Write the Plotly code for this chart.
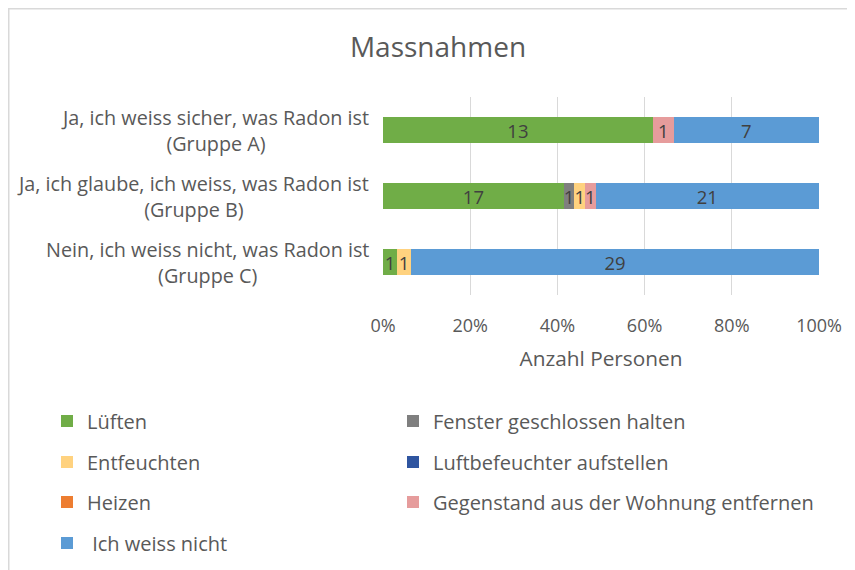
import plotly.graph_objects as go

categories = [
    "Ja, ich weiss sicher, was Radon ist<br>(Gruppe A)",
    "Ja, ich glaube, ich weiss, was Radon ist<br>(Gruppe B)",
    "Nein, ich weiss nicht, was Radon ist<br>(Gruppe C)",
]
series_names = [
    "Lüften",
    "Fenster geschlossen halten",
    "Entfeuchten",
    "Luftbefeuchter aufstellen",
    "Heizen",
    "Gegenstand aus der Wohnung entfernen",
    " Ich weiss nicht",
]
lueften = [13, 17, 1]
fenster = [0, 1, 0]
entfeuchten = [0, 1, 1]
luftbefeuchter = [0, 0, 0]
heizen = [0, 0, 0]
gegenstand = [1, 1, 0]
weiss_nicht = [7, 21, 29]
series_values = [lueften, fenster, entfeuchten, luftbefeuchter, heizen, gegenstand, weiss_nicht]
colors = ["#70AD47", "#7F7F7F", "#FFD27F", "#2F55A0", "#ED7D31", "#E69C9C", "#5B9BD5"]
x_ticks = [0, 20, 40, 60, 80, 100]
x_ticklabels = ["0%", "20%", "40%", "60%", "80%", "100%"]

FONT = "Open Sans"
TXT = "#595959"

# page offset of the plot div (body margin)
OFF = 8
W, H = 855 - OFF, 570 - OFF
# plot area in page pixels
PL, PR, PT, PB = 383, 819, 97, 295
L = PL - OFF
T = PT - OFF
R = W - (PR - OFF)
B = H - (PB - OFF)
pw = W - L - R
ph = H - T - B

def px2x(px):
    return (px - OFF - L) / pw

def py2y(py):
    return (H - B - (py - OFF)) / ph

fig = go.Figure()

# legend layout: (col px, row py) in page pixels
legend_pos = [
    (47, 421), (393, 421),
    (47, 462), (393, 462),
    (47, 502), (393, 502),
    (47, 543),
]

for i, (name, vals, col) in enumerate(zip(series_names, series_values, colors)):
    lg = "legend" if i == 0 else f"legend{i+1}"
    fig.add_trace(go.Bar(
        y=categories,
        x=vals,
        name=name,
        orientation="h",
        marker=dict(color=col, line=dict(width=0)),
        text=[str(v) if v else "" for v in vals],
        textposition="inside",
        insidetextanchor="middle",
        textangle=0,
        constraintext="none",
        textfont=dict(family=FONT, size=18.5, color="#404040"),
        legend=lg,
        hoverinfo="skip",
    ))

layout_legends = {}
for i, (lx, ly) in enumerate(legend_pos):
    key = "legend" if i == 0 else f"legend{i+1}"
    layout_legends[key] = dict(
        x=px2x(lx), y=py2y(ly), xanchor="left", yanchor="middle",
        orientation="h", bgcolor="rgba(0,0,0,0)", borderwidth=0,
        font=dict(family=FONT, size=20, color=TXT),
        itemclick=False, itemdoubleclick=False,
    )

annotations = []
for cat in categories:
    annotations.append(dict(
        x=px2x(371), xref="paper", y=cat, yref="y",
        text=cat, showarrow=False, xanchor="right", yanchor="middle",
        align="center", font=dict(family=FONT, size=19.8, color=TXT),
    ))

fig.update_layout(
    width=W, height=H,
    margin=dict(l=L, r=R, t=T, b=B, autoexpand=False),
    paper_bgcolor="white", plot_bgcolor="white",
    barmode="stack", barnorm="percent", bargap=0.606,
    showlegend=True,
    title=dict(text="Massnahmen", x=(438 - OFF) / W, xanchor="center",
               y=1 - (47 - OFF) / H, yanchor="middle",
               font=dict(family=FONT, size=28, color=TXT)),
    xaxis=dict(
        range=[0, 100], tickvals=x_ticks, ticktext=x_ticklabels,
        showgrid=True, gridcolor="#D9D9D9", gridwidth=1,
        zeroline=False, showline=False, ticks="",
        ticklabelstandoff=18,
        tickfont=dict(family=FONT, size=18, color=TXT),
        title=dict(text="Anzahl Personen", font=dict(family=FONT, size=20.8, color=TXT), standoff=15),
        fixedrange=True,
    ),
    yaxis=dict(
        autorange="reversed", showticklabels=False, showgrid=False,
        zeroline=False, showline=False, ticks="", fixedrange=True,
    ),
    annotations=annotations,
    shapes=[dict(type="rect", xref="paper", yref="paper",
                 x0=px2x(8.5), x1=px2x(900), y0=py2y(8.5), y1=py2y(620),
                 line=dict(color="#D9D9D9", width=2), fillcolor="rgba(0,0,0,0)", layer="below")],
    **layout_legends,
)

fig.write_html("out.html")
